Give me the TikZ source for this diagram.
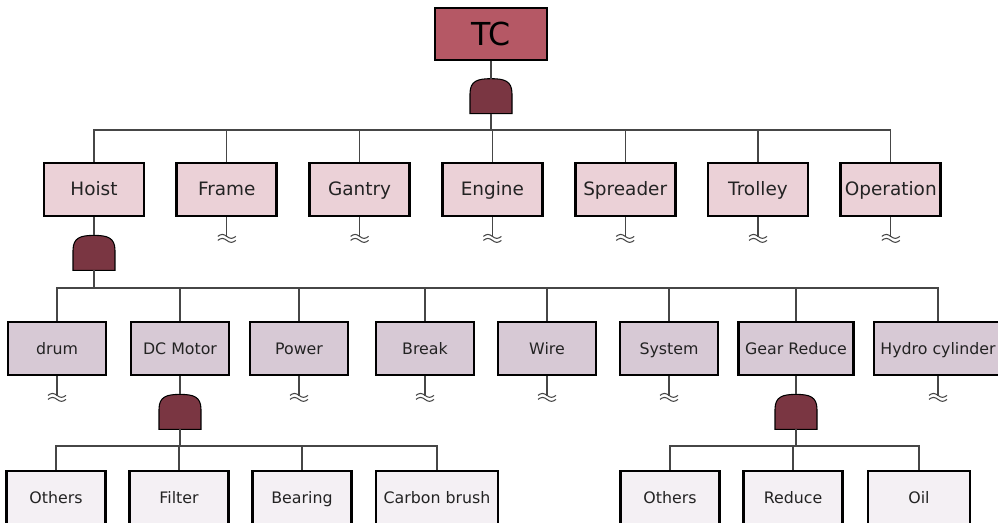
\documentclass[tikz,border=0pt]{standalone}
\usepackage{fontspec}
\setmainfont{DejaVu Sans}
\usetikzlibrary{calc}
\definecolor{tcred}{RGB}{181,88,101}
\definecolor{pinkbox}{RGB}{235,209,215}
\definecolor{lilacbox}{RGB}{215,201,213}
\definecolor{palebox}{RGB}{244,240,244}
\definecolor{gatered}{RGB}{122,54,66}
\definecolor{wiregray}{RGB}{70,70,70}
\definecolor{textgray}{RGB}{35,35,35}

% AND gate hung under a parent node
\newcommand{\andgate}[2]{%
  \node[gatebox, anchor=north] (#1) at ($(#2.south)+(0,-18)$) {};
  \draw[gateshape] (#1.south west) -- ($(#1.south west)+(0,20)$)
    .. controls ($(#1.north west)+(0,-2)$) and ($(#1.north)+(-13,0)$) .. (#1.north)
    .. controls ($(#1.north)+(13,0)$) and ($(#1.north east)+(0,-2)$) .. ($(#1.south east)+(0,20)$)
    -- (#1.south east) -- cycle;
  \draw[wire] (#2.south) -- (#1.north);
}
% undeveloped branch mark
\newcommand{\undev}[1]{%
  \draw[wire] (#1.south) -- ++(0,-20) coordinate (#1-u);
  \draw[wire] ($(#1-u)+(-9,1)$) sin ++(4.5,2) cos ++(4.5,-2) sin ++(4.5,-2) cos ++(4.5,2);
  \draw[wire] ($(#1-u)+(-9,-3)$) sin ++(4.5,2) cos ++(4.5,-2) sin ++(4.5,-2) cos ++(4.5,2);
}

\begin{document}
\begin{tikzpicture}[x=0.02cm, y=0.02cm,
    topbox/.style={rectangle, draw=black, line width=0.8pt, fill=tcred,
                   minimum width=2.24cm, minimum height=1.04cm,
                   font=\fontsize{18}{20}\selectfont, text=black},
    evbox/.style={rectangle, draw=black, line width=1.6pt, fill=pinkbox,
                  minimum width=2cm, minimum height=1.06cm, inner sep=1pt,
                  text height=1.6ex, text depth=0.4ex,
                  font=\fontsize{10.5}{12}\selectfont, text=textgray},
    subbox/.style={evbox, fill=lilacbox, minimum width=1.96cm,
                   font=\fontsize{9}{11}\selectfont},
    basebox/.style={subbox, fill=palebox, minimum width=1.98cm},
    gatebox/.style={rectangle, inner sep=0pt, outer sep=0pt,
                    minimum width=0.84cm, minimum height=0.7cm},
    gateshape/.style={draw=black, line width=0.6pt, fill=gatered},
    wire/.style={draw=wiregray, line width=0.6pt}
]
    \clip (0,0) rectangle (998,-523);

    % top event
    \node[topbox] (tc) at (491,-34) {TC};
    \andgate{tcg}{tc}
    \coordinate (bus1) at (0,-130);

    % first level
    \node[evbox] (hoist)     at (94,-189.5)    {Hoist};
    \node[evbox] (frame)     at (226.8,-189.5) {Frame};
    \node[evbox] (gantry)    at (359.6,-189.5) {Gantry};
    \node[evbox] (engine)    at (492.4,-189.5) {Engine};
    \node[evbox] (spreader)  at (625.2,-189.5) {Spreader};
    \node[evbox] (trolley)   at (758,-189.5)   {Trolley};
    \node[evbox] (operation) at (890.8,-189.5) {Operation};
    \draw[wire] (tcg.south) -- (tcg.south |- bus1);
    \draw[wire] (hoist.north) -- (hoist.north |- bus1) -| (operation.north);
    \foreach \n in {frame, gantry, engine, spreader, trolley} {
        \draw[wire] (\n.north) -- (\n.north |- bus1);
        \undev{\n}
    }
    \undev{operation}

    % hoist branch
    \andgate{hog}{hoist}
    \coordinate (bus2) at (0,-288);
    \node[subbox] (drum)    at (57,-348.5)  {drum};
    \node[subbox] (dcmotor) at (180,-348.5) {DC Motor};
    \node[subbox] (power)   at (299,-348.5) {Power};
    \node[subbox] (break)   at (425,-348.5) {Break};
    \node[subbox] (wire)    at (547,-348.5) {Wire};
    \node[subbox] (system)  at (669,-348.5) {System};
    \node[subbox, minimum width=2.3cm]  (gear)  at (796,-348.5) {Gear Reduce};
    \node[subbox, minimum width=2.56cm] (hydro) at (938,-348.5) {Hydro cylinder};
    \draw[wire] (hog.south) -- (hog.south |- bus2);
    \draw[wire] (drum.north) -- (drum.north |- bus2) -| (hydro.north);
    \foreach \n in {dcmotor, power, break, wire, system, gear} {
        \draw[wire] (\n.north) -- (\n.north |- bus2);
    }
    \foreach \n in {drum, power, break, wire, system, hydro} {
        \undev{\n}
    }

    % DC motor branch
    \andgate{dcg}{dcmotor}
    \coordinate (bus3) at (0,-446);
    \node[basebox] (others1) at (56,-497.5)  {Others};
    \node[basebox] (filter)  at (179,-497.5) {Filter};
    \node[basebox] (bearing) at (302,-497.5) {Bearing};
    \node[basebox, minimum width=2.44cm] (carbon) at (437,-497.5) {Carbon brush};
    \draw[wire] (dcg.south) -- (dcg.south |- bus3);
    \draw[wire] (others1.north) -- (others1.north |- bus3) -| (carbon.north);
    \draw[wire] (filter.north) -- (filter.north |- bus3);
    \draw[wire] (bearing.north) -- (bearing.north |- bus3);

    % gear reduce branch
    \andgate{grg}{gear}
    \node[basebox] (others2) at (670,-497.5) {Others};
    \node[basebox] (reduce)  at (793,-497.5) {Reduce};
    \node[basebox, minimum width=2.04cm] (oil) at (919,-497.5) {Oil};
    \draw[wire] (grg.south) -- (grg.south |- bus3);
    \draw[wire] (others2.north) -- (others2.north |- bus3) -| (oil.north);
    \draw[wire] (reduce.north) -- (reduce.north |- bus3);
\end{tikzpicture}
\end{document}
